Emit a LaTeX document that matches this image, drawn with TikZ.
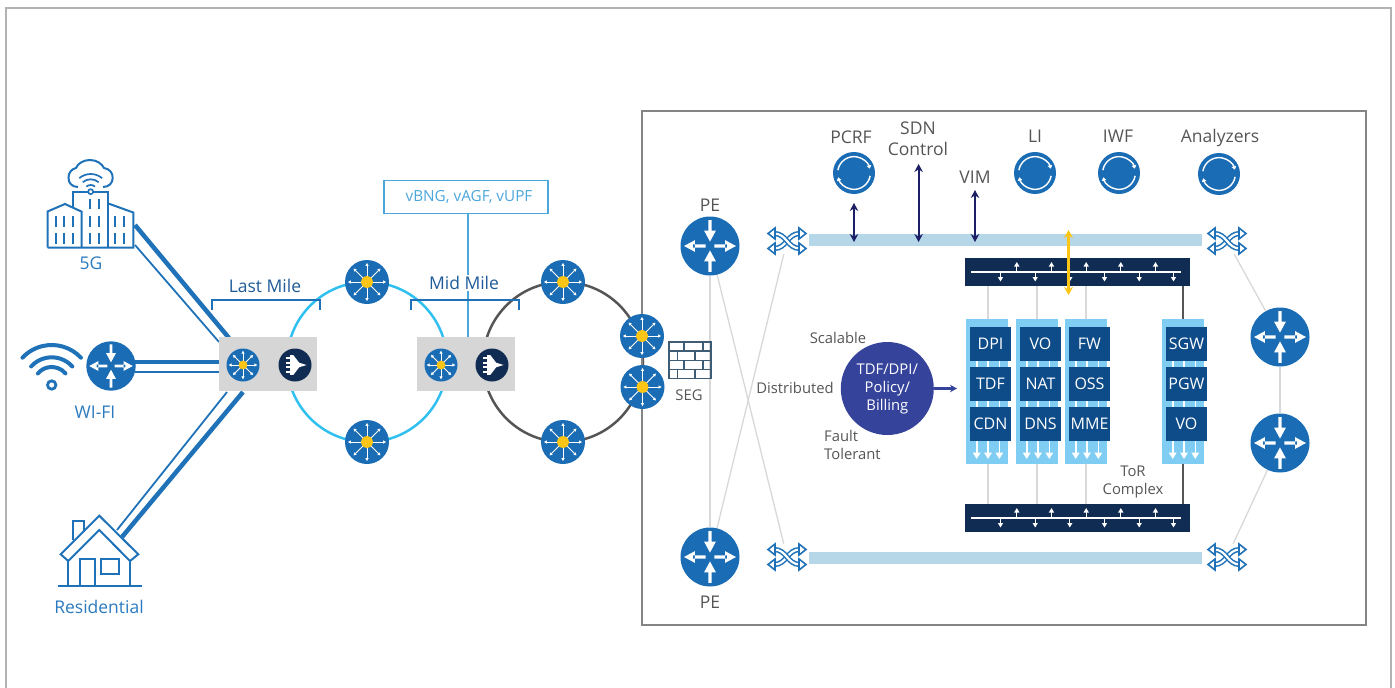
\documentclass[tikz,border=0pt]{standalone}
\usepackage{fontspec}
\setmainfont{Open Sans}
\usetikzlibrary{arrows.meta}
\pgfdeclarelayer{back}
\pgfsetlayers{back,main}
\definecolor{iconblue}{HTML}{1A6CB4}
\definecolor{linkblue}{HTML}{1F72B8}
\definecolor{labelblue}{HTML}{2A7ABF}
\definecolor{milesblue}{HTML}{1F5C99}
\definecolor{skyblue}{HTML}{4BA6DC}
\definecolor{ringcyan}{HTML}{2FC0F0}
\definecolor{ringgray}{HTML}{555555}
\definecolor{framegray}{HTML}{858585}
\definecolor{wiregray}{HTML}{D8D8D8}
\definecolor{hubyellow}{HTML}{FDC515}
\definecolor{inknavy}{HTML}{112C52}
\definecolor{arrownavy}{HTML}{1C1F66}
\definecolor{barblue}{HTML}{B5D7E8}
\definecolor{colblue}{HTML}{7FCDF2}
\definecolor{nfblue}{HTML}{0E4C89}
\definecolor{poolblue}{HTML}{35439B}
\definecolor{brickslate}{HTML}{3E5C74}
\tikzset{
    ball/.style={circle, fill=iconblue, inner sep=0pt},
    iconline/.style={draw=linkblue, line width=2pt, line join=miter},
    wifiline/.style={draw=linkblue, line width=4pt, line cap=round},
    thicklink/.style={draw=linkblue, line width=4.5pt},
    thinlink/.style={draw=linkblue, line width=1.8pt},
    wire/.style={draw=wiregray, line width=1.3pt},
    rackwire/.style={draw=wiregray, line width=2.2pt},
    mgmtarrow/.style={draw=arrownavy, line width=2pt, {Stealth[length=8pt,width=8.5pt]}-{Stealth[length=8pt,width=8.5pt]}},
    bracket/.style={draw=linkblue, line width=1.8pt},
    graybox/.style={fill=black!16, minimum width=98pt, minimum height=54pt, inner sep=0pt},
    barnode/.style={fill=barblue, minimum width=393pt, minimum height=12pt, inner sep=0pt},
    racknode/.style={fill=inknavy, minimum width=225pt, minimum height=28pt, inner sep=0pt},
    nfbox/.style={fill=nfblue, text=white, minimum width=41pt, minimum height=34pt, inner sep=0pt, font=\fontsize{16}{19}\selectfont},
    graytext/.style={text=ringgray, font=\fontsize{17.5}{21}\selectfont, align=center, inner sep=0pt},
    smalltext/.style={text=ringgray, font=\fontsize{14.8}{18}\selectfont, inner sep=0pt},
    iconlabel/.style={text=labelblue, font=\fontsize{17.5}{19}\selectfont, inner sep=0pt},
    mileslabel/.style={text=milesblue, font=\fontsize{17.5}{19}\selectfont, inner sep=1pt, fill=white},
    pics/router/.style={code={
        \node[ball, minimum size=2*#1 pt] (-c) {};
        \begin{scope}[x=#1pt, y=#1pt]
            \foreach \a in {90,270} {
                \fill[white, rotate=\a] (.45,-.055) rectangle (.88,.055) (.15,0) -- (.52,.2) -- (.52,-.2) -- cycle;
            }
            \foreach \a in {0,180} {
                \fill[white, rotate=\a] (.15,-.055) rectangle (.58,.055) (.88,0) -- (.51,.2) -- (.51,-.2) -- cycle;
            }
        \end{scope}
    }},
    pics/hub/.style={code={
        \node[ball, minimum size=2*#1 pt] (-c) {};
        \begin{scope}[x=#1pt, y=#1pt]
            \foreach \a in {0,45,...,315} {
                \draw[white, line width=1pt, -{Triangle[length=3pt,width=3pt]}] (0,0) -- (\a:.87);
            }
            \fill[hubyellow] (0,0) circle (.27);
        \end{scope}
    }},
    pics/aggr/.style={code={
        \node[circle, fill=inknavy, inner sep=0pt, minimum size=2*#1 pt] (-c) {};
        \begin{scope}[x=#1pt, y=#1pt]
            \fill[white] (-.3,.6) -- (-.1,.6) -- (.25,.14) -- (.7,0) -- (.25,-.14) -- (-.1,-.6) -- (-.3,-.6) -- cycle;
            \foreach \t in {.42,.14,-.14,-.42} {
                \fill[white] (-.55,\t-.07) rectangle (-.3,\t+.07);
            }
        \end{scope}
    }},
    pics/sync/.style={code={
        \node[ball, minimum size=42pt] (-c) {};
        \begin{scope}[x=21pt, y=21pt]
            \draw[white, line width=1.4pt, -{Triangle[length=3.5pt,width=4.5pt]}] (170:.78) arc[start angle=170, end angle=15, radius=.78];
            \draw[white, line width=1.4pt, -{Triangle[length=3.5pt,width=4.5pt]}] (-10:.78) arc[start angle=-10, end angle=-165, radius=.78];
        \end{scope}
    }},
    swline/.style={draw=linkblue, line width=1.5pt, double=white, double distance=2.2pt},
    pics/xswitch/.style={code={
        \node[minimum width=39pt, minimum height=26pt, inner sep=0pt] (-c) {};
        \draw[swline] (-13,7.5) .. controls (0,7.5) and (0,-7.5) .. (13,-7.5);
        \draw[swline] (-13,-7.5) .. controls (0,-7.5) and (0,7.5) .. (13,7.5);
        \foreach \sx in {-1,1} {
            \foreach \sy in {-1,1} {
                \filldraw[draw=linkblue, fill=white, line width=1.6pt, line join=miter] (\sx*19,\sy*7.5) -- (\sx*12,\sy*7.5-5.5) -- (\sx*12,\sy*7.5+5.5) -- cycle;
            }
        }
    }},
    pics/rack/.style={code={
        \node[racknode] (-c) {};
        \draw[white, line width=1.1pt] (-106.5,0) -- (103.5,0);
        \foreach \x in {-60.7,-26,8.7,43.3,78} {
            \draw[white, line width=1.2pt, -{Triangle[length=4.5pt,width=5pt]}] (\x,0) -- (\x,-10);
        }
        \foreach \x in {-77,-42.3,-7.7,27,61.7,96} {
            \draw[white, line width=1.2pt, -{Triangle[length=4.5pt,width=5pt]}] (\x,0) -- (\x,9.5);
        }
    }}
}
\begin{document}
\begin{tikzpicture}[x=1pt, y=-1pt]
    \useasboundingbox (0,0) rectangle (1395,688);

    % outer sheet and data centre frame
    \draw[draw=black!30, line width=1.8pt] (6,688) -- (6,8) -- (1391,8) -- (1391,688);
    \draw[draw=framegray, line width=2.7pt] (642,111) rectangle (1366,625);

    % access side icons
    \pic (wifi) at (111,366) {router=24.7};
    \node[graybox] (edgeA) at (268,364) {};
    \node[graybox] (edgeB) at (466,364) {};
    \pic (edgeHubA) at (243,365) {hub=16.5};
    \pic (edgeAggrA) at (295,365) {aggr=16.5};
    \pic (edgeHubB) at (441,365) {hub=16.5};
    \pic (edgeAggrB) at (492,365) {aggr=16.5};
    \foreach \n/\x/\y in {hubA/367/282, hubB/367/442, hubC/563/282, hubD/563/442, hubE/642/336, hubF/642.5/387} {
        \pic (\n) at (\x,\y) {hub=22};
    }
    \coordinate (ringA) at (367,362);
    \coordinate (ringB) at (563,362);
    \foreach \n/\x/\y in {fgThick/135/225, fgThin/135/245, boxThick/229/338, boxThin/219/342, resThick/122/537, resThin/117/530, boxLow/243/392, boxLowIn/227/392, wifiThick/135/362, wifiThin/135/372, boxWifi/220/362, boxWifiIn/220/372} {
        \coordinate (\n) at (\x,\y);
    }

    % 5G
    \draw[iconline] (47.5,247.5) -- (133.3,247.5) -- (133.3,212.5) -- (108.3,203.5);
    \draw[iconline] (47.5,247.5) -- (47.5,211.5) -- (65,204) -- (81.7,211.7) -- (81.7,247.5);
    \draw[iconline] (73.3,207) -- (73.3,192) -- (108.3,192) -- (108.3,247.5);
    \foreach \x in {56,64.3,72.7,115,124.3} {
        \draw[draw=linkblue, line width=1.8pt] (\x,216) -- (\x,226.7) (\x,233) -- (\x,244);
    }
    \foreach \x in {90,99} {
        \draw[draw=linkblue, line width=1.8pt] (\x,199.3) -- (\x,209.3) (\x,216) -- (\x,226.7) (\x,233) -- (\x,244);
    }
    \draw[iconline, line width=2pt] (78,187) .. controls (72,187) and (68.5,183) .. (68.5,178) .. controls (68.5,172) and (72,169) .. (76,168) .. controls (78,163) and (84,160) .. (90,160) .. controls (97,160) and (102,164) .. (104,168) .. controls (110,169) and (112.7,173) .. (112.7,178) .. controls (112.7,183) and (109,187) .. (103,187);
    \coordinate (cloudWifi) at (90.7,191.7);
    \draw[draw=linkblue, line width=1.6pt, fill=white] (cloudWifi) circle (2.5pt);
    \foreach \r in {6.7,12.4,17.7} {
        \draw[draw=linkblue, line width=1.7pt] (cloudWifi) ++(50:\r pt) arc[start angle=50, end angle=130, radius=\r pt];
    }
    \node[iconlabel] (fgLabel) at (91,263) {5G};

    % wi-fi
    \coordinate (wifiDot) at (51.7,385);
    \draw[draw=linkblue, line width=2.8pt] (wifiDot) circle (4.2pt);
    \foreach \r/\t in {18/40, 27.7/42, 40/43} {
        \draw[wifiline] (wifiDot) ++(\t:\r pt) arc[start angle=\t, end angle=180-\t, radius=\r pt];
    }
    \node[iconlabel] (wifiLabel) at (95,412) {WI-FI};

    % residential
    \draw[iconline] (68.3,561) -- (60.7,554.3) -- (99.3,515.7) -- (138.3,554.3) -- (130,561) -- (99.3,530) -- cycle;
    \draw[iconline] (73.3,540) -- (73.3,520.7) -- (84,520.7) -- (84,531.7);
    \draw[iconline] (58.3,585.7) -- (141.7,585.7);
    \draw[iconline] (68.3,561) -- (68.3,585.7) (130,561) -- (130,585.7);
    \draw[iconline] (80,585.7) -- (80,559.3) -- (95,559.3) -- (95,585.7);
    \draw[iconline] (101,559.3) rectangle (119.3,574);
    \node[iconlabel] (resLabel) at (99,607) {Residential};

    % service label and brackets
    \node[draw=skyblue, line width=1.2pt, text=skyblue, minimum width=164pt, minimum height=33pt, inner sep=0pt, font=\fontsize{15.3}{17}\selectfont] (vbng) at (466,197) {\hspace{6pt}vBNG, vAGF, vUPF};
    \node[mileslabel] (lastMile) at (265,286) {Last Mile};
    \node[mileslabel] (midMile) at (464,283) {Mid Mile};
    \draw[bracket] (212,310) -- (212,300) -- (320,300) -- (320,310);
    \draw[bracket] (411,310) -- (411,300) -- (519,300) -- (519,310);

    % seg
    \draw[draw=brickslate, line width=1.6pt] (669,342) rectangle (711,378.5);
    \foreach \y in {351,360.3,369.5} {
        \draw[draw=brickslate, line width=1.6pt] (669,\y) -- (711,\y);
    }
    \foreach \y/\a/\b in {342/684/702.7, 351/677.3/695, 360.3/684/702.7, 369.5/677.3/695} {
        \draw[draw=brickslate, line width=1.6pt] (\a,\y) -- (\a,\y+9.2) (\b,\y) -- (\b,\y+9.2);
    }
    \node[smalltext] (segLabel) at (689,395) {SEG};

    % data centre
    \pic (peA) at (710,246) {router=29.5};
    \pic (peB) at (710,557) {router=29.5};
    \pic (torA) at (1280,337) {router=29.5};
    \pic (torB) at (1280,443) {router=29.5};
    \node[graytext] (peTop) at (710,205) {PE};
    \node[graytext] (peLow) at (710,602) {PE};
    \foreach \n/\x/\y in {swA/787/241, swB/787/557, swC/1227/241, swD/1227/557} {
        \pic (\n) at (\x,\y) {xswitch};
    }
    \node[barnode] (barA) at (1005.5,240) {};
    \node[barnode] (barB) at (1005.5,558) {};
    \pic (rackA) at (1077.5,272) {rack};
    \pic (rackB) at (1077.5,518) {rack};
    \foreach \n/\x/\y in {pcrf/854/173, li/1035/173, iwf/1119/173, analyzers/1219/174} {
        \pic (\n) at (\x,\y) {sync};
    }
    \node[graytext] (pcrfLabel) at (851,137) {PCRF};
    \node[graytext] (sdnLabel) at (918,139) {SDN\\Control};
    \node[graytext] (vimLabel) at (975,177) {VIM};
    \node[graytext] (liLabel) at (1035,136) {LI};
    \node[graytext] (iwfLabel) at (1118,136) {IWF};
    \node[graytext] (analyzersLabel) at (1220,138) {Analyzers};
    \foreach \n/\x/\y in {pcrfTop/854/203, pcrfEnd/854/242, sdnTop/918.6/164, sdnEnd/918.6/242, vimTop/975/190, vimEnd/975/242, torTop/1068.5/230, torEnd/1068.5/295} {
        \coordinate (\n) at (\x,\y);
    }
    \draw[mgmtarrow] (pcrfTop) -- (pcrfEnd);
    \draw[mgmtarrow] (sdnTop) -- (sdnEnd);
    \draw[mgmtarrow] (vimTop) -- (vimEnd);
    \draw[draw=hubyellow, line width=2.6pt, {Stealth[length=8pt,width=9pt]}-{Stealth[length=8pt,width=9pt]}] (torTop) -- (torEnd);

    % network functions
    \foreach \x/\a/\b/\c in {966/DPI/TDF/CDN, 1016/VO/NAT/DNS, 1065/FW/OSS/MME, 1162/SGW/PGW/VO} {
        \fill[colblue] (\x,319) rectangle +(42,145);
        \foreach \d in {10.7,22,33.3} {
            \draw[white, line width=1.6pt, -{Triangle[length=6.5pt,width=7.5pt]}] (\x+\d,340) -- (\x+\d,459);
        }
        \node[nfbox] (top\x) at (\x+24.5,344) {\a};
        \node[nfbox] (mid\x) at (\x+24.5,384) {\b};
        \node[nfbox] (low\x) at (\x+24.5,424) {\c};
    }
    \node[circle, fill=poolblue, minimum size=93pt, inner sep=0pt, text=white, align=center, font=\fontsize{14.8}{18}\selectfont] (pool) at (887.3,388.5) {TDF/DPI/\\Policy/\\Billing};
    \coordinate (poolEnd) at (957,388.5);
    \draw[draw=poolblue, line width=2.2pt, -{Stealth[length=7pt,width=7.5pt]}] (pool) -- (poolEnd);
    \node[smalltext] (scalable) at (838,338) {Scalable};
    \node[smalltext] (distributed) at (795,388) {Distributed};
    \node[smalltext, anchor=west, align=left] (fault) at (824,445) {Fault\\Tolerant};
    \node[smalltext, align=center] (torLabel) at (1133,482) {ToR\\Complex};

    % links behind the icons
    \begin{pgfonlayer}{back}
        \draw[thicklink] (fgThick) -- (boxThick);
        \draw[thinlink] (fgThin) -- (boxThin);
        \draw[thicklink] (resThick) -- (boxLow);
        \draw[thinlink] (resThin) -- (boxLowIn);
        \draw[thicklink] (wifiThick) -- (boxWifi);
        \draw[thinlink] (wifiThin) -- (boxWifiIn);
        \draw[draw=ringcyan, line width=2.5pt] (ringA) circle (80pt);
        \draw[draw=ringgray, line width=2.5pt] (ringB) circle (80pt);
        \draw[draw=skyblue, line width=1.2pt] ([xshift=2pt]vbng.south) -- ([xshift=2pt]edgeB.north);
        \draw[wire] (peA-c) -- (peB-c);
        \draw[wire] (peA-c) -- (swB-c);
        \draw[wire] (swA-c) -- (peB-c);
        \draw[wire] (swC-c) -- (torA-c);
        \draw[wire] (torA-c) -- (torB-c);
        \draw[wire] (torB-c) -- (swD-c);
        \foreach \x in {988.3,1036.7,1085.7} {
            \draw[rackwire] (\x,286) -- (\x,504);
        }
        \draw[draw=ringgray, line width=2.5pt] (1183,286) -- (1183,504);
    \end{pgfonlayer}
\end{tikzpicture}
\end{document}
